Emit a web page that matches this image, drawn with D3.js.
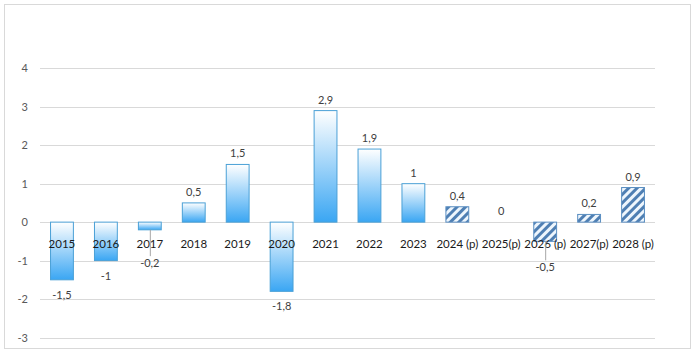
<!DOCTYPE html>
<html><head><meta charset="utf-8">
<script src="https://cdn.jsdelivr.net/npm/d3@7"></script>
<style>body{margin:0;background:#fff;}svg{display:block;font-family:Lato,"Open Sans",sans-serif;}</style>
</head><body>
<svg id="c" width="695" height="354"></svg>
<script>
const categories = ["2015","2016","2017","2018","2019","2020","2021","2022","2023","2024 (p)","2025(p)","2026 (p)","2027(p)","2028 (p)"];
const values = [-1.5,-1,-0.2,0.5,1.5,-1.8,2.9,1.9,1,0.4,0,-0.5,0.2,0.9];
const projected = [false,false,false,false,false,false,false,false,false,true,true,true,true,true];
const valueLabels = ["-1,5","-1","-0,2","0,5","1,5","-1,8","2,9","1,9","1","0,4","0","-0,5","0,2","0,9"];
const yTicks = [-3,-2,-1,0,1,2,3,4];

const svg = d3.select("#c");
svg.append("rect").attr("x",4.5).attr("y",4.5).attr("width",686).attr("height",344)
  .attr("fill","#fff").attr("stroke","#d9d9d9");

const defs = svg.append("defs");
const g1 = defs.append("linearGradient").attr("id","grad").attr("x1",0).attr("y1",0).attr("x2",0).attr("y2",1);
g1.append("stop").attr("offset","0%").attr("stop-color","#ffffff");
g1.append("stop").attr("offset","100%").attr("stop-color","#3aa6f3");
const pat = defs.append("pattern").attr("id","hatch").attr("patternUnits","userSpaceOnUse")
  .attr("width",6).attr("height",6).attr("patternTransform","rotate(45)");
pat.append("rect").attr("width",6).attr("height",6).attr("fill","#eef6fd");
pat.append("rect").attr("width",3).attr("height",6).attr("fill","#4f7fb3");

const x = d3.scaleBand().domain(categories).range([40,655]).paddingInner(0.48).paddingOuter(0.24);
const y = d3.scaleLinear().domain([-3,4]).range([337.5,68.3]);

// gridlines
svg.append("g").selectAll("line").data(yTicks).join("line")
  .attr("x1",40).attr("x2",655).attr("y1",d=>Math.round(y(d))+0.5).attr("y2",d=>Math.round(y(d))+0.5)
  .attr("stroke","#d9d9d9");
const yAxis = d3.axisLeft(y).tickValues(yTicks).tickSize(0).tickPadding(0).tickFormat(d=>String(d));
const ya = svg.append("g").attr("transform","translate(28,0)").call(yAxis);
ya.select(".domain").remove();
ya.selectAll("text").attr("fill","#595959").attr("font-size",11).attr("font-family","Lato,sans-serif");

// bars
svg.append("g").selectAll("rect").data(values).join("rect")
  .attr("x",(d,i)=>x(categories[i]))
  .attr("width",x.bandwidth())
  .attr("y",d=>y(Math.max(0,d)))
  .attr("height",d=>Math.abs(y(d)-y(0)))
  .attr("fill",(d,i)=>projected[i]?"url(#hatch)":"url(#grad)")
  .attr("stroke",(d,i)=>projected[i]?"#5b8fc2":"#4aa0d6")
  .attr("stroke-width",1);

// category labels
const catY = y(0)+26;
svg.append("g").selectAll("text").data(categories).join("text")
  .attr("x",d=>x(d)+x.bandwidth()/2).attr("y",catY)
  .attr("text-anchor","middle").attr("font-size",11.5).attr("fill","#1a1a1a").text(d=>d);

// value labels
const vl = svg.append("g");
values.forEach((v,i)=>{
  const cx = x(categories[i])+x.bandwidth()/2;
  let ly;
  if (v>=0) ly = y(v)-7;
  else {
    ly = y(v)+19;
    if (ly < catY+14) {
      const nl = Math.max(y(v)+30, catY+19);
      vl.append("line").attr("x1",cx+0.5).attr("x2",cx+0.5).attr("y1",y(v)).attr("y2",nl-11)
        .attr("stroke","#a6a6a6").attr("stroke-width",1);
      ly = nl;
    }
  }
  vl.append("text").attr("x",cx).attr("y",ly).attr("text-anchor","middle")
    .attr("font-size",11).attr("fill","#404040").text(valueLabels[i]);
});
</script>
</body></html>
